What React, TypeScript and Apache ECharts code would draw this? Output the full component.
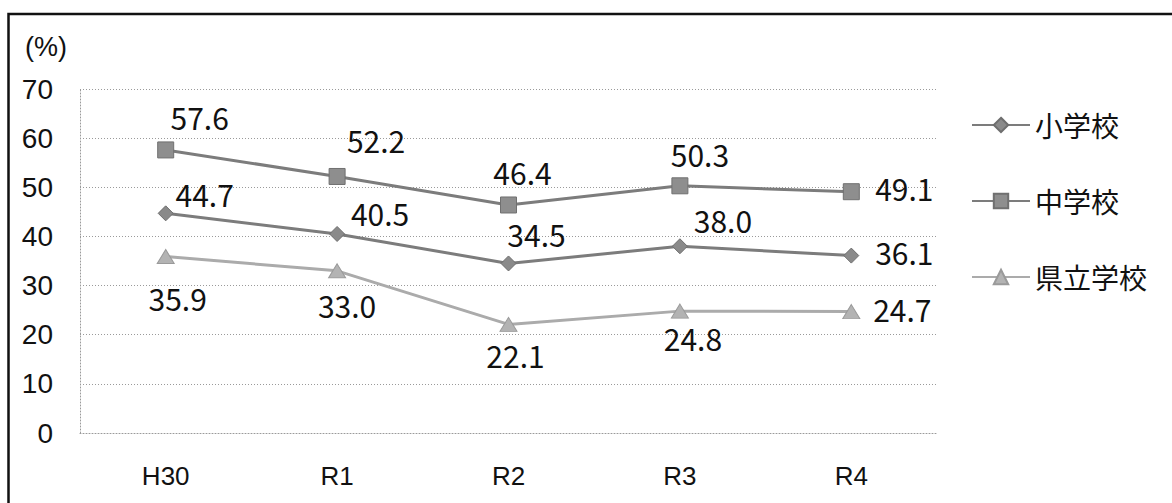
import React, { useEffect, useRef } from "react";
import * as echarts from "echarts";

const categories = ["H30", "R1", "R2", "R3", "R4"];
const seriesNames = ["小学校", "中学校", "県立学校"];
const shougakkou = [44.7, 40.5, 34.5, 38.0, 36.1];
const chuugakkou = [57.6, 52.2, 46.4, 50.3, 49.1];
const kenritsu = [35.9, 33.0, 22.1, 24.8, 24.7];
const yUnit = "(%)";

// label offsets (px) from each marker centre
const offShou = [[39, -19], [43, -21], [28, -29], [43, -26], [53, -4]];
const offChuu = [[34, -33], [39, -36], [14, -33], [20, -32], [53, -4]];
const offKen = [[12, 41], [10, 34], [7, 31], [13, 27], [51, -3]];

const labelFont = "'Noto Sans CJK JP', sans-serif";
const latin = "'Liberation Sans', Arial, sans-serif";
const gridLine = { color: "#9a9a9a", type: [1, 2], width: 1 };

function mk(values: number[], offs: number[][]) {
  return values.map((v, i) => ({
    value: v,
    label: { offset: offs[i] },
  }));
}

export default function App() {
  const ref = useRef<HTMLDivElement>(null);
  useEffect(() => {
    document.body.style.margin = "0";
    const chart = echarts.init(ref.current!, null, { renderer: "svg" });
    const label = {
      show: true,
      position: "inside",
      color: "#111",
      fontSize: 30,
      fontFamily: labelFont,
      formatter: (p: any) => Number(p.value).toFixed(1),
    };
    chart.setOption({
      animation: false,
      backgroundColor: "#fff",
      graphic: [
        {
          type: "rect",
          shape: { x: 8.5, y: 14, width: 1200, height: 600 },
          style: { fill: "none", stroke: "#111", lineWidth: 2.5 },
          silent: true,
        },
      ],
      grid: { left: 80, right: 235, top: 89, bottom: 70 },
      legend: {
        orient: "vertical",
        left: 966,
        top: 106,
        itemWidth: 58,
        itemHeight: 18,
        itemGap: 48,
        textStyle: {
          fontSize: 28,
          lineHeight: 28,
          color: "#111",
          fontFamily: labelFont,
        },
        data: seriesNames,
      },
      xAxis: {
        type: "category",
        data: categories,
        boundaryGap: true,
        axisLine: { show: true, lineStyle: gridLine },
        axisTick: { show: false },
        axisLabel: {
          margin: 30,
          fontSize: 26,
          color: "#111",
          fontFamily: latin,
        },
      },
      yAxis: {
        type: "value",
        min: 0,
        max: 70,
        interval: 10,
        name: yUnit,
        nameLocation: "end",
        nameGap: 29,
        nameTextStyle: {
          fontSize: 27,
          color: "#111",
          align: "right",
          padding: [0, 13, 0, 0],
          fontFamily: latin,
        },
        axisLine: { show: true, lineStyle: gridLine },
        axisTick: { show: false },
        axisLabel: {
          margin: 27,
          fontSize: 28,
          color: "#111",
          fontFamily: latin,
        },
        splitLine: { show: true, lineStyle: gridLine },
      },
      series: [
        {
          name: seriesNames[0],
          type: "line",
          data: mk(shougakkou, offShou),
          symbol: "diamond",
          symbolSize: 15,
          lineStyle: { color: "#7c7c7c", width: 3 },
          itemStyle: { color: "#8a8a8a", borderColor: "#6e6e6e", borderWidth: 1 },
          label,
          z: 3,
        },
        {
          name: seriesNames[1],
          type: "line",
          data: mk(chuugakkou, offChuu),
          symbol: "rect",
          symbolSize: 16,
          lineStyle: { color: "#7c7c7c", width: 3 },
          itemStyle: { color: "#8e8e8e", borderColor: "#707070", borderWidth: 1 },
          label,
          z: 3,
        },
        {
          name: seriesNames[2],
          type: "line",
          data: mk(kenritsu, offKen),
          symbol: "triangle",
          symbolSize: [17, 14],
          lineStyle: { color: "#ababab", width: 3 },
          itemStyle: { color: "#b3b3b3", borderColor: "#9a9a9a", borderWidth: 1 },
          label,
          z: 2,
        },
      ],
    });
    return () => chart.dispose();
  }, []);
  return <div ref={ref} style={{ width: 1172, height: 503 }} />;
}
